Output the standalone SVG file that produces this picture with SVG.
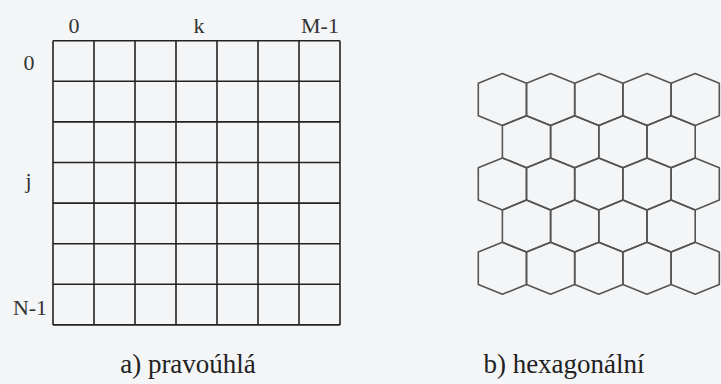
<svg xmlns="http://www.w3.org/2000/svg" xmlns:xlink="http://www.w3.org/1999/xlink" width="721" height="384" viewBox="0 0 721 384">
  <style>
    .lbl { font-family: 'Liberation Serif', 'DejaVu Serif', serif; font-size: 22px; fill: #333; }
    .cap { font-family: 'Liberation Serif', 'DejaVu Serif', serif; font-size: 27px; fill: #222; }
    .grid line { stroke: #222; stroke-width: 1.6; }
    .hex { fill: none; stroke: #555; stroke-width: 1.6; stroke-linejoin: round; }
  </style>
  <defs>
    <polygon id="hx" class="hex" points="0,-26 24.1,-16.2 24.1,16.2 0,26 -24.1,16.2 -24.1,-16.2"/>
  </defs>
  <rect x="0" y="0" width="721" height="384" fill="#f3f5f7"/>

  <g id="grid" class="grid">
    <line x1="53" y1="40.7" x2="53" y2="324.9"/>
    <line x1="94" y1="40.7" x2="94" y2="324.9"/>
    <line x1="135" y1="40.7" x2="135" y2="324.9"/>
    <line x1="176" y1="40.7" x2="176" y2="324.9"/>
    <line x1="217" y1="40.7" x2="217" y2="324.9"/>
    <line x1="258" y1="40.7" x2="258" y2="324.9"/>
    <line x1="299" y1="40.7" x2="299" y2="324.9"/>
    <line x1="340" y1="40.7" x2="340" y2="324.9"/>
    <line x1="53" y1="40.7" x2="340" y2="40.7"/>
    <line x1="53" y1="81.3" x2="340" y2="81.3"/>
    <line x1="53" y1="121.9" x2="340" y2="121.9"/>
    <line x1="53" y1="162.5" x2="340" y2="162.5"/>
    <line x1="53" y1="203.1" x2="340" y2="203.1"/>
    <line x1="53" y1="243.7" x2="340" y2="243.7"/>
    <line x1="53" y1="284.3" x2="340" y2="284.3"/>
    <line x1="53" y1="324.9" x2="340" y2="324.9"/>
  </g>

  <g id="grid-labels">
    <text class="lbl" x="74" y="33" text-anchor="middle">0</text>
    <text class="lbl" x="199" y="33" text-anchor="middle">k</text>
    <text class="lbl" x="320" y="33" text-anchor="middle">M-1</text>
    <text class="lbl" x="29" y="70" text-anchor="middle">0</text>
    <text class="lbl" x="28.5" y="188" text-anchor="middle">j</text>
    <text class="lbl" x="30" y="315" text-anchor="middle">N-1</text>
  </g>

  <g id="hexgrid">
    <use xlink:href="#hx" x="502.4" y="99.5"/>
    <use xlink:href="#hx" x="550.6" y="99.5"/>
    <use xlink:href="#hx" x="598.8" y="99.5"/>
    <use xlink:href="#hx" x="647" y="99.5"/>
    <use xlink:href="#hx" x="695.2" y="99.5"/>
    <use xlink:href="#hx" x="526.5" y="141.7"/>
    <use xlink:href="#hx" x="574.7" y="141.7"/>
    <use xlink:href="#hx" x="622.9" y="141.7"/>
    <use xlink:href="#hx" x="671.1" y="141.7"/>
    <use xlink:href="#hx" x="502.4" y="183.9"/>
    <use xlink:href="#hx" x="550.6" y="183.9"/>
    <use xlink:href="#hx" x="598.8" y="183.9"/>
    <use xlink:href="#hx" x="647" y="183.9"/>
    <use xlink:href="#hx" x="695.2" y="183.9"/>
    <use xlink:href="#hx" x="526.5" y="226.1"/>
    <use xlink:href="#hx" x="574.7" y="226.1"/>
    <use xlink:href="#hx" x="622.9" y="226.1"/>
    <use xlink:href="#hx" x="671.1" y="226.1"/>
    <use xlink:href="#hx" x="502.4" y="268.3"/>
    <use xlink:href="#hx" x="550.6" y="268.3"/>
    <use xlink:href="#hx" x="598.8" y="268.3"/>
    <use xlink:href="#hx" x="647" y="268.3"/>
    <use xlink:href="#hx" x="695.2" y="268.3"/>
  </g>

  <g id="captions">
    <text class="cap" x="188" y="373" text-anchor="middle">a) pravoúhlá</text>
    <text class="cap" x="564" y="373" text-anchor="middle">b) hexagonální</text>
  </g>
</svg>
